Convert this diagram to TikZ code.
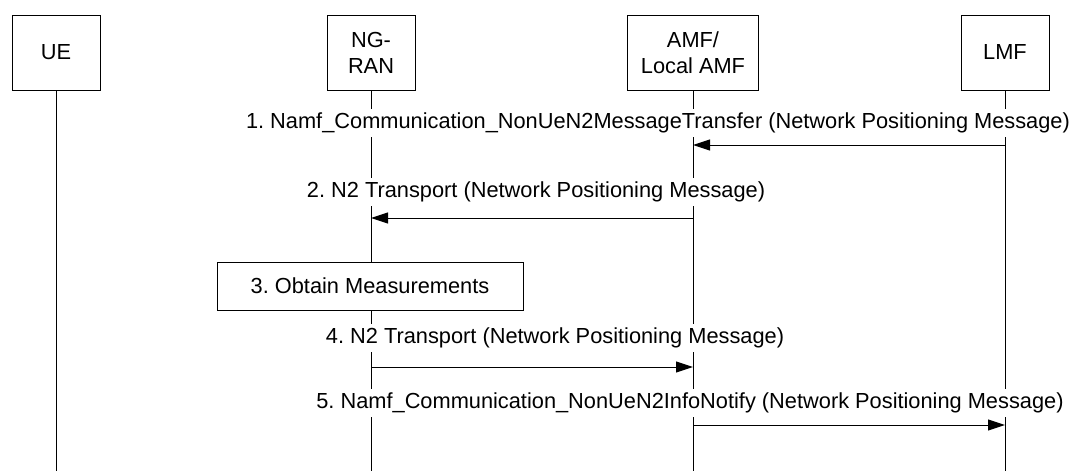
\documentclass[tikz,border=0pt]{standalone}
\usepackage{fontspec}
\setmainfont{Liberation Sans}
\frenchspacing
\usetikzlibrary{arrows.meta}
\tikzset{>={Triangle[length=.34cm,width=.22cm]},line width=.55pt,
  every node/.style={font=\fontsize{12.4}{14.8}\selectfont},
  entity/.style={draw,fill=white,minimum width=1.76cm,minimum height=1.5cm,align=center,inner sep=2pt},
  lifeline/.style={draw,line width=.55pt},
  msg/.style={->,line width=.55pt},
  msglabel/.style={fill=white,inner sep=2pt},
  actionbox/.style={draw,fill=white,minimum width=6.12cm,minimum height=.96cm}}

\begin{document}
\begin{tikzpicture}
\path[use as bounding box] (0,0) rectangle (21.5,-9.42);
\coordinate (bottom) at (0,-9.42);
\node[entity] (ue) at (1.12,-1.05) {UE};
\node[entity] (ngran) at (7.42,-1.05) {NG-\\RAN};
\node[entity,minimum width=2.62cm] (amf) at (13.86,-1.05) {AMF/\\Local AMF};
\node[entity] (lmf) at (20.1,-1.05) {LMF};
\foreach \n in {ue,ngran,amf,lmf} \draw[lifeline] (\n.south) -- (\n.south |- bottom);
\coordinate (r1) at (0,-2.9);\coordinate (r2) at (0,-4.36);
\coordinate (r4) at (0,-7.34);\coordinate (r5) at (0,-8.5);
\node[msglabel] (l1) at (13.16,-2.46) {1. Namf\_Communication\_NonUeN2MessageTransfer (Network Positioning Message)};
\draw[msg] (lmf |- r1) -- (amf |- r1);
\node[msglabel] (l2) at (10.72,-3.84) {2. N2 Transport (Network Positioning Message)};
\draw[msg] (amf |- r2) -- (ngran |- r2);
\node[actionbox] (measure) at (7.40,-5.72) {3. Obtain Measurements};
\node[msglabel] (l4) at (11.1,-6.76) {4. N2 Transport (Network Positioning Message)};
\draw[msg] (ngran |- r4) -- (amf |- r4);
\node[msglabel] (l5) at (13.8,-8.06) {5. Namf\_Communication\_NonUeN2InfoNotify (Network Positioning Message)};
\draw[msg] (amf |- r5) -- (lmf |- r5);
\end{tikzpicture}
\end{document}
